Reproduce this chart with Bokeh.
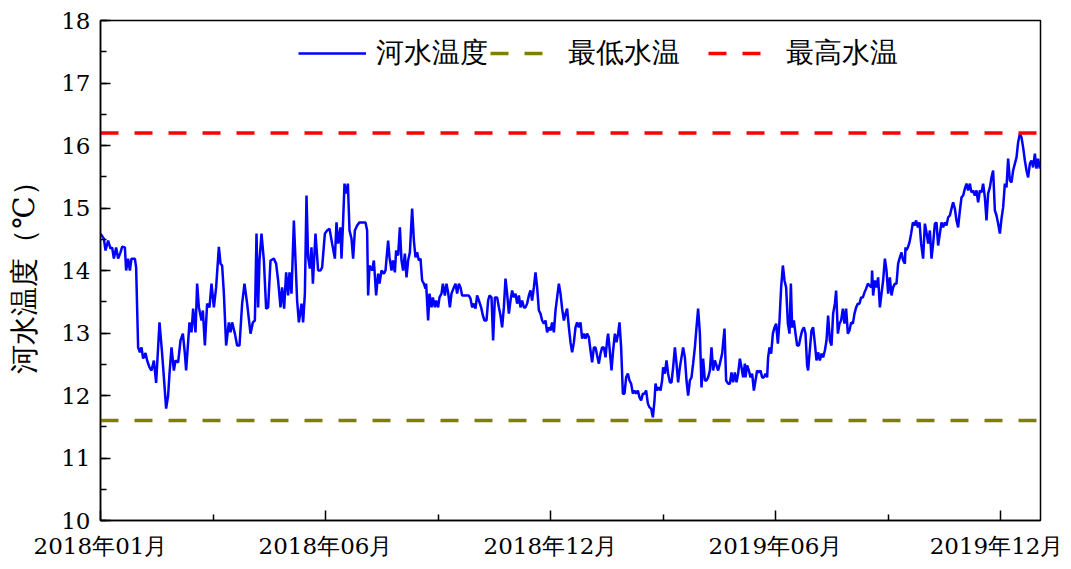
from bokeh.plotting import figure
from bokeh.models import Range1d, FixedTicker, SingleIntervalTicker, Legend, LegendItem
from bokeh.embed import file_html
from bokeh.resources import INLINE

# ---- data: day offset from 2018-01-01 and river water temperature (°C) ----
days_1 = [0, 2.7, 4, 6.1, 8, 9.3, 10.7, 12.5, 14.1, 16, 17.3, 19.5, 20.5, 22.1, 23.5, 24.8, 27.5, 28.5,
          30.1, 31.5, 32.8, 34.1, 36, 37.3, 39.2, 40.8, 42.7, 44.5, 47.2, 49.3, 50.7, 52.5, 54.1, 55.2,
          56.8, 58.7, 60, 62.1, 64, 65.9, 67.5, 68.5, 71.2, 72.8, 74.1, 76, 77.3, 78.7, 80.8, 81.9, 83.5,
          85.3, 87.2, 88.8, 90.7, 92.5, 94.7, 96, 97.3, 98.7, 100.5, 102.7, 104, 105.3, 107.5, 109.3,
          111.2, 113.3, 115.2, 117.3, 120, 121.9, 123.5]
temp_1 = [14.59, 14.51, 14.32, 14.48, 14.35, 14.37, 14.19, 14.37, 14.19, 14.29, 14.38, 14.37, 14.0, 14.19,
          14.0, 14.19, 14.19, 14.05, 12.77, 12.69, 12.77, 12.59, 12.68, 12.56, 12.45, 12.4, 12.56, 12.2,
          13.17, 12.67, 12.29, 11.79, 12.0, 12.35, 12.77, 12.4, 12.56, 12.53, 12.88, 12.99, 12.67, 12.4,
          13.17, 13.01, 13.39, 13.01, 13.79, 13.41, 13.2, 13.36, 12.8, 13.47, 13.41, 13.79, 13.41, 13.73,
          14.38, 14.11, 14.08, 13.63, 12.8, 13.17, 13.01, 13.17, 12.99, 12.8, 12.8, 13.47, 13.79, 13.47,
          12.99, 13.17, 13.2]

days_2 = [124.8, 126.1, 127.2, 128.8, 130.7, 132.5, 134.1, 136, 138.7, 140.5, 142.1, 144, 145.3, 146.9,
          148.5, 150.1, 151.2, 152.8, 154.7, 156, 157.3, 158.7, 160.8, 162.1, 163.5, 164.8, 166.1, 167.5,
          168.8, 169.9, 172, 174.1, 176, 177.3, 179.5, 181.3, 183.2, 185.3, 187.5, 188.8, 190.1, 192,
          192.8, 193.9, 195.2, 196.5, 197.9, 199.2, 200.8, 202.1, 203.5, 205.3, 207.2, 209.3, 212, 213.3,
          214.1, 215.2, 217.3, 218.7, 220.5, 222.1, 223.2, 224.8, 226.7, 228, 230.1, 231.2, 232.8, 233.9,
          235.5, 236.5, 238.1, 239.5, 240.8, 242.1, 243.5, 244.8, 246.1, 247.5, 249.3, 250.7, 252, 253.3,
          254.7, 256, 257.3, 258.7, 260]
temp_2 = [14.59, 13.41, 14.16, 14.59, 14.16, 13.39, 13.41, 14.16, 14.19, 14.11, 13.84, 13.41, 13.73, 13.39,
          13.97, 13.6, 13.97, 13.63, 14.8, 14.16, 13.52, 13.17, 13.47, 13.17, 13.63, 15.2, 14.21, 14.03,
          14.37, 13.79, 14.59, 14.0, 14.0, 14.05, 14.59, 14.64, 14.67, 14.43, 14.19, 14.77, 14.43, 14.69,
          14.19, 14.69, 15.39, 15.23, 15.39, 14.64, 14.51, 14.19, 14.64, 14.72, 14.77, 14.77, 14.77, 14.64,
          13.6, 14.08, 14.0, 14.16, 13.6, 13.95, 13.79, 14.0, 13.95, 14.0, 14.48, 14.21, 14.0, 14.16,
          13.97, 14.32, 14.24, 14.69, 14.16, 14.0, 14.27, 13.89, 14.16, 14.29, 14.99, 14.48, 14.21, 14.29,
          14.16, 14.19, 13.84, 13.79, 13.71]

days_3 = [260.5, 262.1, 263.2, 264.8, 265.9, 267.5, 268.5, 270.1, 271.2, 272.8, 273.9, 275.5, 276.8, 278.1,
          279.5, 280.8, 282.7, 284, 285.3, 286.7, 288, 289.3, 292, 294.7, 296, 297.3, 298.7, 300, 301.3,
          302.7, 304.5, 305.9, 307.2, 308.8, 310.1, 311.2, 312.8, 314.1, 315.5, 317.3, 318.7, 320, 321.3,
          322.7, 324, 325.3, 326.7, 328, 329.3, 330.7, 332, 333.3, 334.7, 336, 337.3, 338.7, 340, 341.3,
          342.7, 344, 345.3, 346.7, 348, 349.3, 350.7, 352, 353.3, 354.7, 356, 357.3, 358.7, 360, 361.3,
          362.7, 364, 365.3, 366.7, 368, 369.3, 370.7, 372, 373.3, 374.7, 376, 377.3, 378.7, 380, 381.3,
          382.7, 384, 385.3, 386.7, 388]
temp_3 = [13.79, 13.2, 13.63, 13.41, 13.57, 13.41, 13.52, 13.41, 13.57, 13.63, 13.79, 13.6, 13.79, 13.65,
          13.41, 13.63, 13.73, 13.79, 13.63, 13.79, 13.73, 13.6, 13.6, 13.6, 13.55, 13.41, 13.47, 13.39,
          13.6, 13.52, 13.41, 13.28, 13.2, 13.2, 13.52, 13.6, 13.57, 12.88, 13.57, 13.57, 13.41, 13.28,
          13.09, 13.41, 13.87, 13.63, 13.31, 13.52, 13.68, 13.57, 13.63, 13.47, 13.6, 13.41, 13.52, 13.41,
          13.41, 13.47, 13.6, 13.68, 13.52, 13.73, 13.97, 13.73, 13.36, 13.31, 13.2, 13.15, 13.2, 13.01,
          13.09, 13.04, 13.17, 13.01, 13.36, 13.57, 13.79, 13.63, 13.39, 13.2, 13.31, 13.39, 13.09, 12.85,
          12.69, 12.85, 13.09, 13.17, 13.09, 13.17, 12.91, 12.99, 12.91]

days_4 = [389.3, 390.7, 392, 393.3, 394.7, 396, 397.3, 398.7, 400, 401.3, 402.7, 404, 405.3, 406.1, 407.2,
          408.8, 410.1, 411.5, 412.8, 414.1, 415.2, 416.5, 417.9, 419.2, 420.5, 421.9, 423.2, 424.5, 425.9,
          427.2, 428.5, 429.9, 431.2, 432.5, 433.9, 435.2, 436.5, 437.9, 439.2, 440.5, 441.9, 443.2, 444,
          445.3, 446.7, 448, 449.3, 450.1, 451.5, 452.8, 454.1, 455.5, 456.8, 458.1, 459.5, 460.8, 462.1,
          463.5, 464.8, 466.1, 467.5, 468.8, 470.1, 471.5, 472.8, 474.1, 475.5, 476.8, 478.1, 479.5, 480.8,
          482.1, 483.5, 484.8, 486.1, 487.5, 488.8, 490.1, 491.5, 492.8, 494.1, 495.5, 497.3, 499.2, 500.5,
          502.1, 503.5, 504.8, 506.1, 507.5, 508.8, 510.1, 511.5, 512.8, 514.1, 515.5]
temp_4 = [12.99, 12.93, 12.72, 12.53, 12.77, 12.77, 12.64, 12.51, 12.67, 12.77, 12.77, 12.61, 12.88, 12.99,
          12.77, 12.4, 12.72, 12.99, 12.85, 12.99, 13.17, 12.77, 12.03, 12.03, 12.29, 12.35, 12.24, 12.19,
          12.03, 12.08, 12.03, 12.08, 11.97, 11.92, 12.03, 12.03, 12.08, 11.87, 11.81, 11.79, 11.65, 11.92,
          12.19, 12.08, 12.13, 12.08, 12.24, 12.45, 12.35, 12.56, 12.35, 12.21, 12.21, 12.45, 12.77, 12.51,
          12.21, 12.45, 12.61, 12.77, 12.61, 12.24, 12.0, 12.24, 12.29, 12.51, 12.77, 13.09, 13.39, 12.99,
          12.13, 12.59, 12.24, 12.24, 12.29, 12.4, 12.77, 12.4, 12.56, 12.48, 12.4, 12.51, 12.67, 13.07,
          12.24, 12.19, 12.19, 12.37, 12.21, 12.37, 12.21, 12.35, 12.59, 12.45, 12.29, 12.51]

days_5 = [516, 517.3, 518.7, 520, 521.3, 522.7, 524, 525.3, 526.7, 528, 529.3, 530.7, 532, 533.3, 534.1,
          535.2, 536.5, 537.9, 539.2, 540.5, 541.9, 543.2, 544.5, 545.9, 547.2, 548.5, 549.9, 551.2, 552.3,
          553.3, 554.7, 556, 557.3, 558.7, 560, 561.3, 562.7, 564, 565.3, 566.1, 567.2, 568.8, 570.1, 571.5,
          572.8, 574.1, 575.5, 576.8, 578.1, 579.5, 580.8, 582.1, 583.5, 584.8, 586.1, 587.5, 588.5, 589.9,
          591.2, 592.5, 593.9, 595.2, 596.5, 597.9, 599.2, 600.5, 601.9, 603.2, 604.5, 605.9, 607.2, 608.5,
          609.9, 611.2, 612.5, 613.9, 615.2, 616.8, 617.3, 618.1, 619.5, 620.8, 622.1, 623.5, 624.8, 626.1,
          627.5, 628.8, 630.1, 631.5, 632.8, 634.1, 635.5, 636.8, 638.1, 639.5, 640.8, 642.1, 643.5, 644]
temp_5 = [12.29, 12.48, 12.4, 12.29, 12.35, 12.08, 12.24, 12.4, 12.37, 12.4, 12.29, 12.29, 12.35, 12.29,
          12.61, 12.77, 12.67, 12.99, 13.09, 13.15, 12.83, 13.2, 13.73, 14.08, 13.84, 13.73, 13.15, 12.99,
          13.79, 13.09, 13.2, 12.99, 12.8, 12.8, 12.93, 13.04, 13.09, 12.99, 12.48, 12.4, 12.67, 13.04,
          13.09, 12.83, 12.56, 12.69, 12.56, 12.67, 12.61, 12.72, 12.88, 13.28, 12.88, 12.8, 13.31, 13.47,
          13.68, 12.99, 13.15, 13.2, 13.39, 13.15, 13.39, 12.99, 13.04, 13.17, 13.15, 13.31, 13.41, 13.47,
          13.47, 13.57, 13.57, 13.65, 13.71, 13.79, 13.76, 13.73, 14.0, 13.6, 13.84, 13.73, 13.89, 13.41,
          13.63, 13.84, 14.19, 14.0, 13.63, 13.89, 13.6, 13.73, 13.79, 13.79, 14.11, 14.21, 14.29, 14.16,
          14.11, 14.37]

days_6 = [644.5, 645.9, 647.2, 648.5, 649.9, 651.2, 652.5, 653.9, 655.2, 656.5, 658.1, 659.5, 660.8, 662.1,
          663.5, 664.8, 666.1, 667.5, 668.8, 670.1, 671.5, 672.8, 674.1, 675.5, 676.8, 678.1, 679.5, 680.8,
          682.1, 683.5, 684.8, 686.1, 687.5, 688.8, 690.1, 691.5, 692.8, 694.1, 695.5, 696.8, 698.1, 699.5,
          700.8, 702.1, 703.5, 704.8, 706.1, 707.5, 708.8, 710.1, 711.5, 712.8, 714.1, 715.5, 716.8, 718.1,
          719.5, 720.8, 722.1, 723.5, 724.8, 726.1, 727.5, 728.8, 730.1, 731.5, 732.8, 734.1, 735.5, 736.8,
          738.1, 739.5, 740.8, 742.1, 743.5, 744.8, 746.1, 747.5, 748.8, 750.1, 751.5]
temp_6 = [14.32, 14.37, 14.45, 14.59, 14.77, 14.72, 14.8, 14.69, 14.77, 14.43, 14.19, 14.75, 14.61, 14.43,
          14.64, 14.19, 14.43, 14.75, 14.77, 14.4, 14.59, 14.77, 14.69, 14.77, 14.72, 14.85, 14.88, 14.99,
          15.09, 14.99, 14.8, 14.69, 14.96, 15.17, 15.2, 15.31, 15.39, 15.28, 15.39, 15.25, 15.28, 15.2,
          15.28, 15.09, 15.28, 15.25, 15.39, 15.17, 14.8, 15.23, 15.33, 15.49, 15.6, 14.96, 14.88, 14.75,
          14.59, 14.83, 15.01, 15.39, 15.33, 15.79, 15.44, 15.41, 15.6, 15.71, 15.81, 16.05, 16.19, 16.13,
          15.97, 15.76, 15.6, 15.49, 15.71, 15.76, 15.65, 15.87, 15.63, 15.79, 15.63]

day_offsets = days_1 + days_2 + days_3 + days_4 + days_5 + days_6
river_temp = temp_1 + temp_2 + temp_3 + temp_4 + temp_5 + temp_6

min_temp = 11.6
max_temp = 16.2

tick_days = [0, 180, 360, 540, 720]
tick_labels = ["2018年01月", "2018年06月", "2018年12月", "2019年06月", "2019年12月"]
minor_days = [90, 270, 450, 630]
x_start, x_end = 0, 752
y_start, y_end = 10, 18

series_names = ["河水温度", "最低水温", "最高水温"]
y_title = "河水温度（℃）"

FONT = "DejaVu Serif"

p = figure(width=1063, height=561, output_backend="svg", toolbar_location=None,
           x_range=Range1d(x_start, x_end), y_range=Range1d(y_start, y_end),
           min_border_left=100, min_border_right=23, min_border_top=20, min_border_bottom=41)

p.xgrid.visible = False
p.ygrid.visible = False
p.outline_line_color = "black"
p.outline_line_width = 1.5
p.background_fill_color = "white"
p.border_fill_color = "white"

r_temp = p.line(day_offsets, river_temp, line_color="#0000FF", line_width=2.5)
r_min = p.line([x_start, x_end], [min_temp, min_temp], line_color="#808000", line_width=3.5,
               line_dash="18 16")
r_max = p.line([x_start, x_end], [max_temp, max_temp], line_color="#FF0000", line_width=3.5,
               line_dash="18 16")

p.xaxis.ticker = FixedTicker(ticks=tick_days, minor_ticks=minor_days)
p.xaxis.major_label_overrides = {d: lab for d, lab in zip(tick_days, tick_labels)}
p.yaxis.ticker = SingleIntervalTicker(interval=1, num_minor_ticks=2)

for ax in (p.xaxis[0], p.yaxis[0]):
    ax.major_tick_in = 10
    ax.major_tick_out = 0
    ax.minor_tick_in = 6
    ax.minor_tick_out = 0
    ax.axis_line_width = 1.5
    ax.axis_line_color = "black"
    ax.major_tick_line_color = "black"
    ax.minor_tick_line_color = "black"
    ax.major_tick_line_width = 1.5
    ax.minor_tick_line_width = 1.5
    ax.major_label_text_font = FONT
    ax.major_label_text_font_size = "23px"
    ax.major_label_text_color = "black"

p.xaxis.major_label_standoff = 12
p.yaxis.major_label_standoff = 10
p.yaxis.axis_label = y_title
p.yaxis.axis_label_text_font = FONT
p.yaxis.axis_label_text_font_size = "29px"
p.yaxis.axis_label_text_font_style = "normal"
p.yaxis.axis_label_text_color = "black"
p.yaxis.axis_label_standoff = 17


def make_legend(items, loc):
    lg = Legend(items=items, location=loc, orientation="horizontal")
    lg.padding = 0
    lg.spacing = 2
    lg.glyph_width = 68
    lg.glyph_height = 30
    lg.label_height = 30
    lg.label_standoff = 10
    lg.label_text_font = FONT
    lg.label_text_font_size = "28px"
    lg.label_text_color = "black"
    lg.background_fill_alpha = 0
    lg.border_line_alpha = 0
    return lg


leg_a = make_legend([LegendItem(label=series_names[0], renderers=[r_temp]),
                     LegendItem(label=series_names[1], renderers=[r_min])], (198, 448))
leg_b = make_legend([LegendItem(label=series_names[2], renderers=[r_max])], (608, 448))
p.add_layout(leg_a, "center")
p.add_layout(leg_b, "center")

open("out.html", "w").write(file_html(p, INLINE))
